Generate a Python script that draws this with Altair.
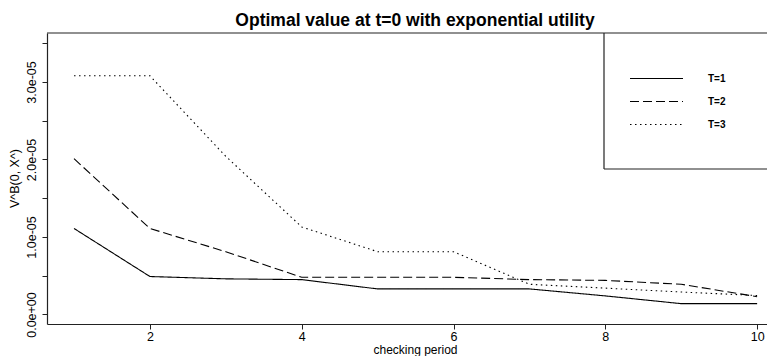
import altair as alt
import pandas as pd

# ---- data ----
periods = [1, 2, 3, 4, 5, 6, 7, 8, 9, 10]
series_names = ["T=1", "T=2", "T=3"]
t1_values = [1.11e-05, 4.9e-06, 4.6e-06, 4.5e-06, 3.3e-06, 3.3e-06, 3.3e-06, 2.4e-06, 1.4e-06, 1.4e-06]
t2_values = [2.01e-05, 1.11e-05, 8.1e-06, 4.8e-06, 4.8e-06, 4.8e-06, 4.5e-06, 4.4e-06, 3.9e-06, 2.3e-06]
t3_values = [3.08e-05, 3.08e-05, 2.04e-05, 1.13e-05, 8.1e-06, 8.1e-06, 3.9e-06, 3.4e-06, 2.9e-06, 2.45e-06]

x_ticks = [2, 4, 6, 8, 10]
y_ticks = [0, 5e-06, 1e-05, 1.5e-05, 2e-05, 2.5e-05, 3e-05, 3.5e-05]
y_tick_labels = ["0.0e+00", "", "1.0e-05", "", "2.0e-05", "", "3.0e-05", ""]

title_text = "Optimal value at t=0 with exponential utility"
x_title = "checking period"
y_title = "V^B(0, X^)"

# ---- build table ----
rows = []
for name, vals in zip(series_names, [t1_values, t2_values, t3_values]):
    for p, v in zip(periods, vals):
        rows.append({"period": p, "value": v, "series": name})
df = pd.DataFrame(rows)
legend_df = pd.DataFrame({"series": series_names})

FONT = "Liberation Sans"
W, H = 720, 291
INK = "#222222"

dash_scale = alt.Scale(domain=series_names, range=[[1, 0], [9, 4], [1.5, 3.5]])

label_js = "[" + ",".join("'%s'" % s for s in y_tick_labels) + "]"

lines = alt.Chart(df).mark_line(color="black", strokeWidth=1.1, clip=True).encode(
    x=alt.X("period:Q",
            scale=alt.Scale(domain=[0.644, 10.13], nice=False, zero=False),
            axis=alt.Axis(values=x_ticks, title=x_title, grid=False, domain=True,
                          domainColor=INK, domainWidth=1.2, tickColor=INK, tickSize=5,
                          labelFont=FONT, labelFontSize=12.5, labelColor="black", labelPadding=1,
                          labelFlush=False,
                          titleFont=FONT, titleFontSize=12, titleFontWeight="normal",
                          titleColor="black", titleX=368, titleY=29, titleBaseline="alphabetic")),
    y=alt.Y("value:Q",
            scale=alt.Scale(domain=[-1.226e-06, 3.632e-05], nice=False, zero=False),
            axis=alt.Axis(values=y_ticks, title=y_title, grid=False, domain=True,
                          domainColor=INK, domainWidth=1.2, tickColor=INK, tickSize=5,
                          labelExpr=label_js + "[round(datum.value/5e-6)]",
                          labelAngle=270, labelAlign="center", labelBaseline="bottom",
                          labelPadding=4, labelFont=FONT, labelFontSize=12.5, labelColor="black",
                          labelFlush=False, labelOverlap=False,
                          titleFont=FONT, titleFontSize=12.5, titleFontWeight="normal",
                          titleColor="black", titleAngle=270, titleX=-33, titleY=145,
                          titleAlign="center", titleBaseline="middle")),
    strokeDash=alt.StrokeDash("series:N", scale=dash_scale, legend=None),
    detail="series:N",
)

# top border of the plot box
top_border = alt.Chart(legend_df.head(1)).mark_rule(color=INK, strokeWidth=1.2).encode(
    x=alt.value(0), x2=alt.value(W), y=alt.value(0)
)

# legend box (left and bottom edges; the rest is off the page)
legend_left = alt.Chart(legend_df.head(1)).mark_rule(color=INK, strokeWidth=1.2).encode(
    x=alt.value(557), y=alt.value(0), y2=alt.value(136)
)
legend_bottom = alt.Chart(legend_df.head(1)).mark_rule(color=INK, strokeWidth=1.2).encode(
    x=alt.value(557), x2=alt.value(W), y=alt.value(136)
)

legend_y = alt.Y("series:N", scale=alt.Scale(domain=series_names, range=[34, 103]), axis=None)

legend_lines = alt.Chart(legend_df).mark_rule(color="black", strokeWidth=1.1).encode(
    x=alt.value(583), x2=alt.value(636),
    y=legend_y,
    strokeDash=alt.StrokeDash("series:N", scale=dash_scale, legend=None),
)
legend_text = alt.Chart(legend_df).mark_text(
    font=FONT, fontSize=10, fontWeight="bold", align="left", baseline="middle", color="black"
).encode(
    x=alt.value(661),
    y=legend_y,
    text="series:N",
)

chart = alt.layer(lines, top_border, legend_left, legend_bottom, legend_lines, legend_text).resolve_scale(
    y="independent"
).properties(
    width=W, height=H,
    title=alt.TitleParams(title_text, font=FONT, fontSize=17.5, fontWeight="bold",
                          color="black", anchor="middle", dx=8, offset=3),
    autosize=alt.AutoSizeParams(type="none"),
    padding={"left": 39, "top": 25, "right": 0, "bottom": 32},
).configure_view(stroke=None)

chart.save("out.html", embed_options={"renderer": "svg", "actions": False})
